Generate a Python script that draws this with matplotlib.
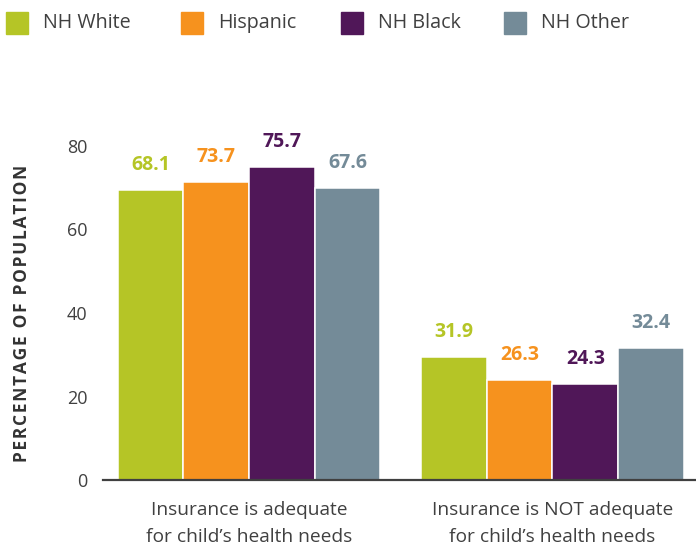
import matplotlib
matplotlib.use("Agg")
import matplotlib.pyplot as plt
from matplotlib.patches import Rectangle
import numpy as np

plt.rcParams["font.family"] = ["Open Sans", "DejaVu Sans"]

groups = ["Insurance is adequate\nfor child\u2019s health needs",
          "Insurance is NOT adequate\nfor child\u2019s health needs"]
series = ["NH White", "Hispanic", "NH Black", "NH Other"]
colors = ["#B5C526", "#F6921E", "#501758", "#748B98"]
# bar heights as drawn in the source chart
heights = {
    "NH White": [69.5, 29.5],
    "Hispanic": [71.4, 24.0],
    "NH Black": [75.0, 23.0],
    "NH Other": [69.9, 31.6],
}
# values printed above the bars
labels = {
    "NH White": [68.1, 31.9],
    "Hispanic": [73.7, 26.3],
    "NH Black": [75.7, 24.3],
    "NH Other": [67.6, 32.4],
}
yticks = [0, 20, 40, 60, 80]
ylabel = "PERCENTAGE OF POPULATION"

fig = plt.figure(figsize=(6.96, 5.46), dpi=100)
ax = fig.add_axes([103 / 696, 66 / 546, 593 / 696, 334 / 546])

x = np.arange(len(groups))
width = 0.2165
for i, (name, color) in enumerate(zip(series, colors)):
    pos = x + (i - 1.5) * width
    bars = ax.bar(pos, heights[name], width, color=color, edgecolor="white", linewidth=1.1)
    for b, val in zip(bars, labels[name]):
        ax.annotate(f"{val:.1f}", (b.get_x() + b.get_width() / 2, b.get_height()),
                    xytext=(0, 18), textcoords="offset points", ha="center", va="center",
                    fontsize=14, fontweight="bold", color=color, clip_on=False)

ax.set_xlim(-0.481, 1.473)
ax.set_ylim(0, 80)
ax.set_yticks(yticks)
ax.set_xticks(x)
ax.set_xticklabels(groups, fontsize=13.8, color="#404040", linespacing=1.62)
ax.tick_params(axis="y", length=0, pad=11, labelsize=13, labelcolor="#404040")
ax.tick_params(axis="x", length=0, pad=15)
for side in ["top", "right", "left"]:
    ax.spines[side].set_visible(False)
ax.spines["bottom"].set_color("#404040")
ax.spines["bottom"].set_linewidth(1.6)
# spread the letters a little, like the original's tracking
spaced = "\u200a".join(ylabel)
ax.set_ylabel(spaced, fontsize=12.5, fontweight="bold", color="#333333", labelpad=26)

# legend across the top
legend_x = [6, 181, 341, 504]
for name, color, lx in zip(series, colors, legend_x):
    fig.add_artist(Rectangle((lx / 696, (546 - 34) / 546), 22 / 696, 22 / 546,
                             transform=fig.transFigure, color=color))
    fig.text((lx + 37) / 696, (546 - 23) / 546, name, fontsize=14.2, color="#404040", va="center")

fig.savefig("out.png", dpi=100)
plt.close(fig)
